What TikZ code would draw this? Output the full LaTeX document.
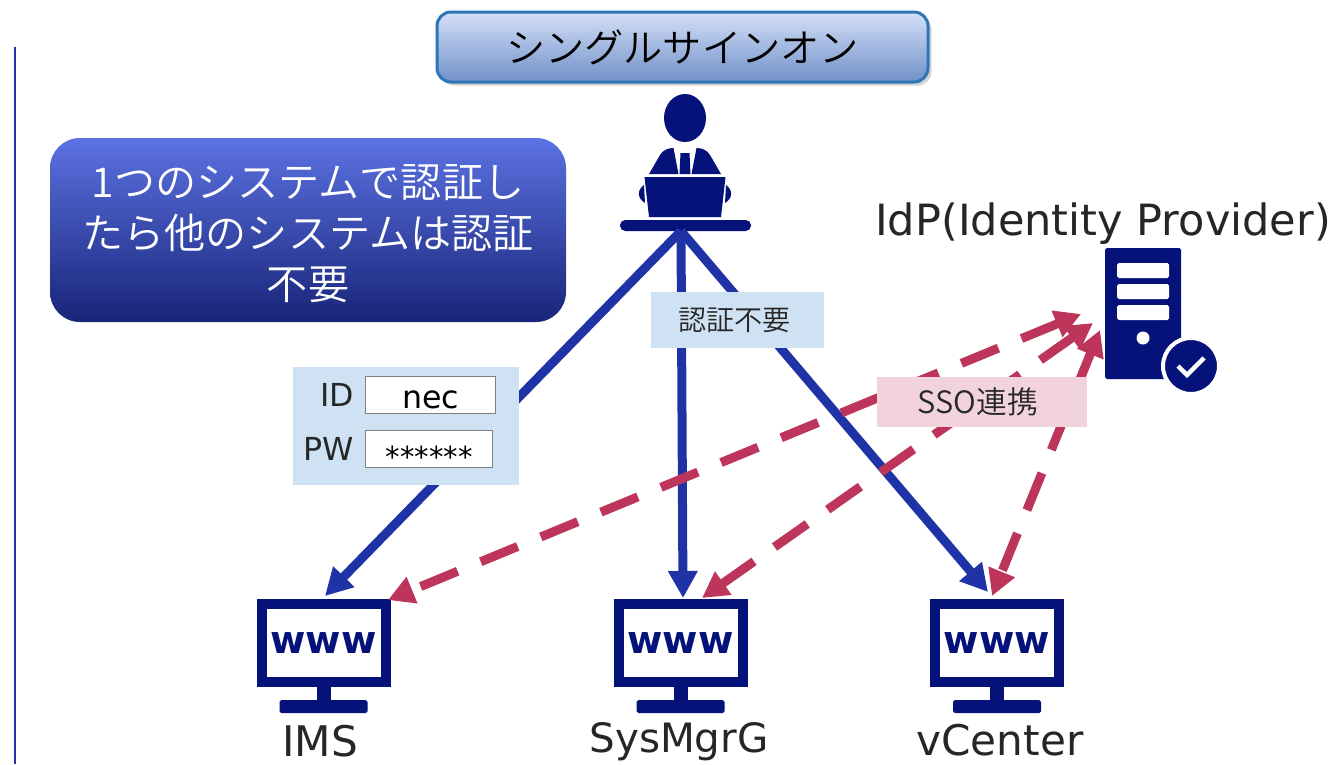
\documentclass[tikz,border=0pt]{standalone}
\usepackage{fontspec}
\setmainfont{DejaVu Sans}
\newfontfamily\jpfont{Noto Sans CJK JP DemiLight}
\usetikzlibrary{arrows.meta,positioning,shadows,calc}
\definecolor{navyicon}{HTML}{04127A}
\definecolor{bluearrow}{HTML}{1F32A6}
\definecolor{pinkarrow}{HTML}{BD355A}
\definecolor{lightblue}{HTML}{CFE2F3}
\definecolor{lightpink}{HTML}{F2D3DC}
\definecolor{textgray}{HTML}{262626}
\definecolor{titleTop}{HTML}{D5E0F8}
\definecolor{titleBot}{HTML}{6F90C8}
\definecolor{titleLine}{HTML}{2E75B6}
\definecolor{noteTop}{HTML}{5C72E2}
\definecolor{noteMid}{HTML}{2437A8}
\definecolor{noteBot}{HTML}{172478}
\newcommand{\pxsize}[1]{\fontsize{#1}{#1}\selectfont}
\tikzset{
  titlebox/.style={draw=titleLine,line width=3*0.2mm,rounded corners=14*0.2mm,top color=titleTop,bottom color=titleBot,
    minimum width=491*0.2mm,minimum height=70*0.2mm,drop shadow={opacity=.35,shadow xshift=2pt,shadow yshift=-2pt},font=\jpfont\pxsize{22.3pt}},
  notebox/.style={rounded corners=30*0.2mm,top color=noteTop,middle color=noteMid,bottom color=noteBot,minimum width=516*0.2mm,minimum height=184*0.2mm},
  notetext/.style={text=white,align=center,inner sep=0pt,font=\jpfont\fontsize{23.4pt}{29pt}\selectfont},
  caption/.style={text=textgray,font=\pxsize{24pt},inner sep=0pt},
  field/.style={draw=gray,fill=white,line width=1.6*0.2mm,inner sep=0pt,font=\pxsize{18pt}},
  monitor/.style={draw=navyicon,fill=white,line width=10*0.2mm,minimum width=124*0.2mm,minimum height=78*0.2mm,inner sep=0pt,
    text=navyicon,font=\bfseries\pxsize{21.8pt}},
  iconfill/.style={fill=navyicon,draw=none},
  bluelink/.style={draw=bluearrow,line width=9*0.2mm,-{Triangle[length=27*0.2mm,width=28*0.2mm]}},
  pinklink/.style={draw=pinkarrow,line width=9*0.2mm,dash pattern=on 40*0.2mm off 25*0.2mm,
    {Triangle[length=26*0.2mm,width=27*0.2mm]}-{Triangle[length=26*0.2mm,width=27*0.2mm]}},
}
\begin{document}
\begin{tikzpicture}[x=0.2mm,y=-0.2mm]
\useasboundingbox (0,0) rectangle (1334,764);
\draw[bluearrow,line width=2*0.2mm] (15,47) -- (15,764);
% title and note
\node[titlebox] (title) at (682.5,47) {シングルサインオン};
\node[notebox] (note) at (308,230) {};
\node[notetext] (notelines) at (308,234) {1つのシステムで認証し\\たら他のシステムは認証\\不要};
% user at the desk
\fill[iconfill] (685,118) ellipse (21 and 24);
\fill[iconfill] (649,174) -- (660,155) .. controls (663,150) and (668,148) .. (673.5,148) -- (678.5,174) -- cycle;
\fill[iconfill] (721,174) -- (710,155) .. controls (707,150) and (702,148) .. (696.5,148) -- (691.5,174) -- cycle;
\fill[iconfill] (680.5,153) -- (689.5,153) -- (690.5,174) -- (679.5,174) -- cycle;
\fill[iconfill] (644,185) .. controls (637,190) and (637,198) .. (645,203) -- cycle;
\fill[iconfill] (726,185) .. controls (733,190) and (733,198) .. (725,203) -- cycle;
\fill[iconfill] (644.5,177) -- (725.5,177) -- (721,217) -- (649,217) -- cycle;
\node[iconfill,rounded corners=3pt,minimum width=131*0.2mm,minimum height=11*0.2mm,inner sep=0pt] (desk) at (685.5,225.5) {};
% server
\node[iconfill,rounded corners=1pt,minimum width=76*0.2mm,minimum height=131*0.2mm,inner sep=0pt] (idp) at (1143,313.5) {};
\foreach \slot in {270.5,291.5,312.5}
  \fill[white,rounded corners=1pt] (1117,\slot-7.5) rectangle (1169,\slot+7.5);
\fill[white] (1143,338) circle (6.5);
\node[circle,fill=navyicon,draw=white,line width=4*0.2mm,minimum size=56*0.2mm,inner sep=0pt] (badge) at (1191,366) {};
\draw[white,line width=4.5*0.2mm] (1178,366) -- (1187,375) -- (1204,358);
\node[caption,anchor=base,font=\pxsize{24.5pt}] (idpname) at (1103,235) {IdP(Identity Provider)};
% web systems
\foreach \name/\posx/\label/\labx/\laby/\labsize in {ims/323.5/IMS/320/756/24pt,sysmgr/680.5/SysMgrG/679/752/23pt,vcenter/997/vCenter/1000/755/24pt}{
  \node[monitor] (\name) at (\posx,643) {www};
  \fill[iconfill] (\posx-7,687) rectangle (\posx+7,700);
  \fill[iconfill,rounded corners=1pt] (\posx-44,700) rectangle (\posx+44,713);
  \node[caption,anchor=base,font=\pxsize{\labsize}] (\name label) at (\labx,\laby) {\label};
}
% connector ends
\coordinate (deskfoot) at (681,231);
\coordinate (imsin) at (325,596);
\coordinate (imspink) at (388,600);
\coordinate (sysin) at (683,598);
\coordinate (syspink) at (702,598);
\coordinate (vcin) at (988,592);
\coordinate (vcpink) at (992,596);
\coordinate (idpa) at (1081,314);
\coordinate (idpb) at (1093,323);
\coordinate (idpc) at (1100,330);
\draw[bluelink] (deskfoot) -- (imsin);
\draw[bluelink] (deskfoot) -- (sysin);
\draw[bluelink] (deskfoot) -- (vcin);
\draw[pinklink] (idpa) -- (imspink);
\draw[pinklink] (idpb) -- (syspink);
\draw[pinklink] (idpc) -- (vcpink);
% labels over the arrows
\node[fill=lightblue,minimum width=226*0.2mm,minimum height=118*0.2mm] (login) at (406,426) {};
\node[field,minimum width=130*0.2mm,minimum height=37*0.2mm] (idfield) at (430.5,395) {\raisebox{-2.6mm}[0pt][0pt]{nec}};
\node[field,minimum width=127*0.2mm,minimum height=37*0.2mm,font=\pxsize{16.5pt}] (pwfield) at (429,449) {\raisebox{-3.6mm}[0pt][0pt]{******}};
\node[text=textgray,font=\pxsize{18pt},inner sep=0pt,left=10*0.2mm of idfield] (idtext) {ID};
\node[text=textgray,font=\pxsize{18pt},inner sep=0pt,left=11*0.2mm of pwfield] (pwtext) {PW};
\node[fill=lightblue,minimum width=173*0.2mm,minimum height=56*0.2mm,text=textgray,inner sep=0pt] (nologin) at (737.5,320) {\hspace{-1.2mm}\jpfont\pxsize{16pt}認証不要};
\node[fill=lightpink,minimum width=210*0.2mm,minimum height=50*0.2mm,text=textgray,inner sep=0pt] (ssolink) at (982,402) {\hspace{-1.6mm}\jpfont\pxsize{17.5pt}SSO連携};
\end{tikzpicture}
\end{document}
